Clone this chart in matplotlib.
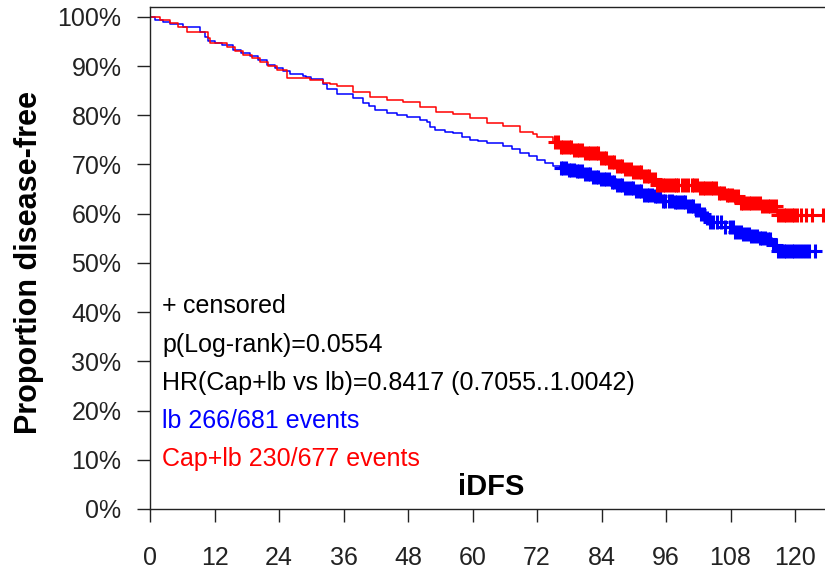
import numpy as np
import matplotlib.pyplot as plt

plt.rcParams['font.family'] = ['Liberation Sans', 'DejaVu Sans']

# Kaplan-Meier steps (months, % disease-free)
lb_time = [0, 1, 2.5, 3.7, 6.1, 9.3, 10.2, 10.8, 12, 13.4, 15.5, 17, 18.6, 20,
           21.8, 23.2, 24.8, 26, 28.5, 29, 30, 32.2, 33, 34.7, 37.8, 39.7,
           40.8, 41.9, 44, 46, 47.8, 50.2, 51.5, 52, 53, 54.8, 56.4, 58, 59.5,
           61, 62.7, 65.7, 67.3, 68.8, 70.5, 72, 73.5, 75, 76.3, 77.8, 79.4,
           80.6, 82.2, 83.7, 85.6, 86.8, 88, 90, 91.8, 93.6, 95, 97.4, 100,
           101.2, 102.3, 103.3, 104.2, 106.3, 108.5, 110, 111.6, 113.2, 114.8,
           115.7, 116.6]
lb_surv = [100, 99.4, 99.0, 98.6, 98.0, 97.0, 96.0, 95.0, 94.6, 94.2, 93.3,
           92.6, 92.0, 91.2, 90.3, 89.6, 89.0, 88.4, 88.0, 87.7, 87.4, 86.3,
           85.3, 84.3, 83.5, 82.5, 81.8, 81.1, 80.5, 80.1, 79.7, 79.0, 78.6,
           77.7, 77.0, 76.6, 76.3, 75.6, 75.0, 74.7, 74.4, 73.8, 73.1, 72.4,
           71.7, 71.0, 70.3, 69.6, 69.2, 68.9, 68.6, 68.0, 67.5, 67.0, 66.4,
           65.9, 65.2, 64.6, 63.9, 63.5, 62.5, 62.3, 61.5, 60.7, 59.9, 59.1,
           58.3, 57.2, 56.2, 55.8, 55.4, 55.0, 54.8, 53.6, 52.5]

cap_time = [0, 1.9, 3.7, 5.3, 6.9, 10.8, 11.2, 14.3, 15.8, 17.3, 19, 20.5, 22,
            23.6, 25.5, 29.8, 32.2, 33.5, 34.7, 37.8, 40.9, 44, 47.1, 50.2,
            53.3, 56.4, 59.5, 62.7, 65.7, 68.8, 71.3, 72, 75, 76, 78.5, 80.6,
            83.7, 85.3, 86.8, 88.4, 89.9, 91.5, 93, 94.3, 102.3, 105.5, 107,
            108.5, 109.8, 113.5, 116.6]
cap_surv = [100, 99.4, 98.8, 98.0, 96.9, 95.8, 94.7, 93.9, 93.1, 92.3, 91.6,
            90.9, 90.1, 89.3, 87.6, 87.2, 86.6, 86.3, 86.0, 84.8, 83.8, 83.2,
            82.6, 81.7, 80.7, 80.3, 79.5, 78.5, 77.9, 76.7, 76.2, 75.5, 74.6,
            73.6, 73.0, 72.4, 71.4, 70.5, 69.6, 69.0, 68.4, 67.7, 67.0, 65.9,
            65.3, 64.3, 63.9, 63.5, 62.2, 61.5, 59.8]

# censoring times (months)
lb_cens = [76.4, 76.9, 77.4, 77.9, 78.4, 78.9, 79.4, 79.9, 80.4, 80.9, 81.4,
           81.9, 82.4, 82.9, 83.4, 83.9, 84.4, 84.9, 85.4, 85.9, 86.4, 86.9,
           87.4, 87.9, 88.4, 88.9, 89.4, 89.9, 90.4, 90.9, 91.4, 91.9, 92.4,
           92.9, 93.4, 93.9, 94.4, 94.9, 95.4, 95.9, 96.5, 97.1, 97.6, 98.1,
           98.6, 99.1, 99.6, 100.1, 100.6, 101.1, 101.6, 102.1, 102.6, 103.1,
           103.6, 104.2, 104.8, 105.5, 106.2, 107.0, 107.9, 108.4, 108.9,
           109.4, 109.9, 110.4, 110.9, 111.4, 111.9, 112.4, 112.9, 113.4,
           113.9, 114.4, 114.9, 115.4, 115.9, 116.4, 116.9, 117.4, 117.9,
           118.4, 118.9, 119.4, 119.9, 120.4, 121.0, 121.5, 122.0, 122.6,
           123.7]
cap_cens = [75.4, 75.9, 76.4, 76.9, 77.4, 77.9, 78.4, 78.9, 79.4, 79.9, 80.4,
            80.9, 81.4, 81.9, 82.4, 82.9, 83.4, 83.9, 84.4, 84.9, 85.4, 85.9,
            86.4, 86.9, 87.4, 87.9, 88.4, 88.9, 89.4, 89.9, 90.4, 90.9, 91.4,
            91.9, 92.4, 92.9, 93.4, 93.9, 94.4, 94.9, 95.4, 95.9, 96.4, 96.9,
            97.4, 97.9, 98.3, 98.9, 99.5, 100.1, 100.8, 101.3, 101.8, 102.3,
            102.8, 103.3, 103.8, 104.3, 104.8, 105.3, 105.8, 106.3, 106.8,
            107.3, 107.8, 108.3, 108.8, 109.4, 109.9, 110.4, 110.9, 111.4,
            111.9, 112.4, 112.9, 113.4, 113.9, 114.4, 114.9, 115.4, 115.9,
            116.4, 116.9, 117.4, 117.9, 118.4, 118.9, 119.4, 119.9, 120.4,
            121.2, 122.1, 123.1, 125.2]

x_ticks = [0, 12, 24, 36, 48, 60, 72, 84, 96, 108, 120]
y_ticks = [0, 10, 20, 30, 40, 50, 60, 70, 80, 90, 100]

notes = ["p(Log-rank)=0.0554", "HR(Cap+lb vs lb)=0.8417 (0.7055..1.0042)"]
groups = ["lb 266/681 events", "Cap+lb 230/677 events"]
BLUE = "#0000ff"
RED = "#ff0000"


def surv_at(times, surv, when):
    idx = np.searchsorted(times, when, side="right") - 1
    return np.asarray(surv)[idx] / 100


fig = plt.figure(figsize=(8.25, 5.73), dpi=100)
ax = fig.add_axes([150 / 825, 1 - 509 / 573, 675 / 825, 502 / 573])

for t, s, c, col in [(lb_time, lb_surv, lb_cens, BLUE),
                     (cap_time, cap_surv, cap_cens, RED)]:
    xs = list(t) + [c[-1]]
    ys = [v / 100 for v in s] + [s[-1] / 100]
    ax.plot(xs, ys, drawstyle="steps-post", color=col, lw=1.1)
    ax.plot(c, surv_at(t, s, c), "+", color=col, ms=10.5, mew=2.2)

ax.set_xlim(0, 125.58)
ax.set_ylim(0, 1.02)
ax.set_xticks(x_ticks)
ax.set_xticklabels([str(v) for v in x_ticks])
ax.set_yticks([v / 100 for v in y_ticks])
ax.set_yticklabels([f"{v}%" for v in y_ticks])
ax.tick_params(axis="both", direction="out", length=9.5, width=1,
               labelsize=18, colors="#222222")
ax.tick_params(axis="y", pad=11)
ax.tick_params(axis="x", pad=17)
for side in ["left", "top", "bottom"]:
    ax.spines[side].set_linewidth(1)
    ax.spines[side].set_color("#222222")
ax.spines["right"].set_visible(False)

fig.text(29 / 825, 1 - 262 / 573, "Proportion disease-free", rotation=90,
         ha="center", va="center", fontsize=22, fontweight="bold")


# legend-like annotations, baselines in pixel rows
def px(x, y):
    return x / 825, 1 - y / 573


fig.text(*px(162, 313), "+", fontsize=18, va="baseline")
fig.text(*px(183, 313), "censored", fontsize=18, va="baseline")
fig.text(*px(162, 352), notes[0], fontsize=18, va="baseline")
fig.text(*px(162, 390), notes[1], fontsize=18, va="baseline")
fig.text(*px(162, 428), groups[0], fontsize=18, va="baseline", color=BLUE)
fig.text(*px(162, 466), groups[1], fontsize=18, va="baseline", color=RED)
fig.text(*px(491, 487), "iDFS", fontsize=21, fontweight="bold",
         ha="center", va="center")

fig.savefig("out.png", dpi=100)
